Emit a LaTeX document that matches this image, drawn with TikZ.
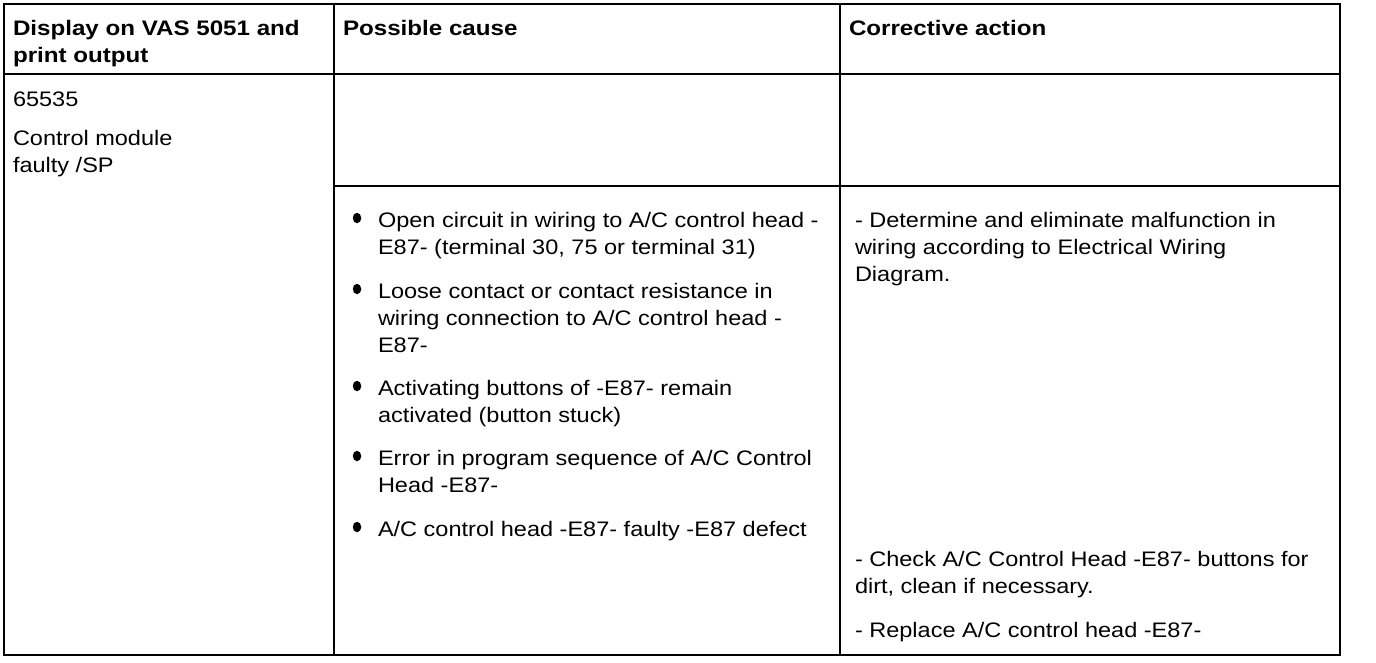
\documentclass[tikz,border=0pt]{standalone}
\usepackage{fontspec}
\setmainfont{Liberation Sans}[FakeStretch=1.12, BoldFeatures={FakeStretch=1.15}]
\usetikzlibrary{shapes.geometric}
\begin{document}
\begin{tikzpicture}[x=1pt,y=-1pt,
  txt/.style={anchor=base west, inner sep=0pt, outer sep=0pt, align=left, font=\fontsize{21}{27}\selectfont},
  hdr/.style={txt, font=\fontsize{21}{27}\selectfont\bfseries},
  bul/.style={ellipse, fill=black, inner sep=0pt, minimum width=8.5pt, minimum height=10.5pt},
  rule/.style={line width=1.4pt, line cap=rect},
  bottomrule/.style={line width=2.6pt, line cap=rect}]
\useasboundingbox (0,0) rectangle (1376,662);
% grid coordinates
\coordinate (tl) at (4,4);
\coordinate (tr) at (1340,4);
\coordinate (bl) at (4,655);
\coordinate (br) at (1340,655);
\coordinate (c1t) at (334,4);
\coordinate (c1b) at (334,655);
\coordinate (c2t) at (840,4);
\coordinate (c2b) at (840,655);
\coordinate (h1) at (4,74);
\coordinate (h2) at (1340,74);
\coordinate (r1) at (334,186);
\coordinate (r2) at (1340,186);
\draw[rule] (bl) -- (tl) -- (tr) -- (br);
\draw[bottomrule] (bl) -- (br);
\draw[rule] (c1t) -- (c1b);
\draw[rule] (c2t) -- (c2b);
\draw[rule] (h1) -- (h2);
\draw[rule] (r1) -- (r2);
% header (node positions are at the baseline of the last line)
\node[hdr] (hA) at (13,62) {Display on VAS 5051 and\\print output};
\node[hdr] (hB) at (343,35) {Possible cause};
\node[hdr] (hC) at (849,35) {Corrective action};
% column 1
\node[txt] (code) at (13,106) {65535};
\node[txt] (desc) at (13,172) {Control module\\faulty /SP};
% causes
\node[txt] (p1) at (378,254) {Open circuit in wiring to A/C control head -\\E87- (terminal 30, 75 or terminal 31)};
\node[txt] (p2) at (378,352) {Loose contact or contact resistance in\\wiring connection to A/C control head -\\E87-};
\node[txt] (p3) at (378,422) {Activating buttons of -E87- remain\\activated (button stuck)};
\node[txt] (p4) at (378,492) {Error in program sequence of A/C Control\\Head -E87-};
\node[txt] (p5) at (378,536) {A/C control head -E87- faulty -E87 defect};
\foreach \p/\y in {p1/218,p2/289,p3/386,p4/456,p5/527}{
  \node[bul] (b\p) at (357,\y) {};
}
% corrective actions
\node[txt] (a1) at (855,281) {- Determine and eliminate malfunction in\\wiring according to Electrical Wiring\\Diagram.};
\node[txt] (a2) at (855,593) {- Check A/C Control Head -E87- buttons for\\dirt, clean if necessary.};
\node[txt] (a3) at (855,637) {- Replace A/C control head -E87-};
\end{tikzpicture}
\end{document}
